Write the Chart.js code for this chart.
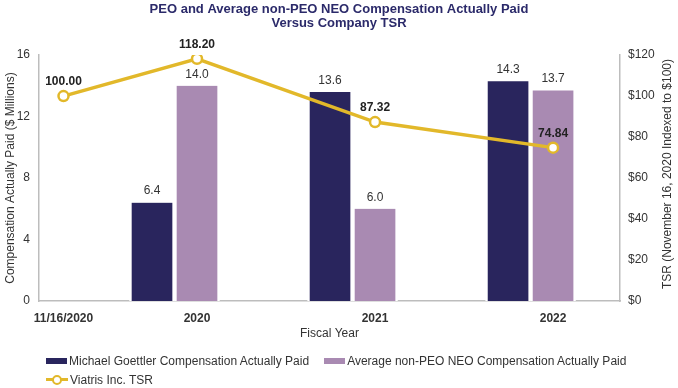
<!DOCTYPE html>
<html>
<head>
<meta charset="utf-8">
<script src="https://cdn.jsdelivr.net/npm/chart.js@4.4.1/dist/chart.umd.min.js"></script>
<style>
  html, body { margin: 0; padding: 0; background: #fff; }
  #wrap { position: relative; width: 678px; height: 388px; }
  #legend {
    position: absolute; left: 46px; top: 351px; width: 610px;
    display: flex; flex-wrap: wrap;
    font: 12px "Liberation Sans", Arial, sans-serif; color: #333;
  }
  .item { display: flex; align-items: center; height: 19px; margin-right: 15px; white-space: nowrap; }
  .swatch { width: 21px; height: 6px; margin-right: 2px; }
  .marker { position: relative; width: 22px; height: 10px; margin-right: 2px; }
  .marker .bar { position: absolute; left: 0; right: 0; top: 3.5px; height: 3px; }
  .marker .dot { position: absolute; left: 6px; top: 0; width: 6px; height: 6px; border-radius: 50%; background: #fff; border: 2px solid; }
</style>
</head>
<body>
<div id="wrap">
  <canvas id="chart" width="678" height="388"></canvas>
  <div id="legend"></div>
</div>
<script>
const categories = ['11/16/2020', '2020', '2021', '2022'];
const categoryPositions = [0.25, 1, 2, 3];
const ceoCap = [null, 6.4, 13.6, 14.3];
const neoCap = [null, 14.0, 6.0, 13.7];
const tsrValues = [100.00, 118.20, 87.32, 74.84];
const compTicks = [0, 4, 8, 12, 16];
const tsrTicks = [0, 20, 40, 60, 80, 100, 120];

const NAVY = '#29255d';
const PURPLE = '#a98ab2';
const GOLD = '#e2b82a';
const TEXT = '#333333';
const AXIS = '#bdbdbd';
const FONT = '"Liberation Sans", Arial, sans-serif';

function toPoints(values) {
  return values
    .map((y, i) => ({ x: categoryPositions[i], y }))
    .filter(p => p.y !== null);
}

function labelFor(value) {
  const i = categoryPositions.indexOf(value);
  return i >= 0 ? categories[i] : '';
}

// value labels above bars and TSR points
const valueLabels = {
  id: 'valueLabels',
  afterDatasetsDraw(chart) {
    const ctx = chart.ctx;
    ctx.save();
    ctx.textAlign = 'center';
    ctx.textBaseline = 'middle';
    chart.data.datasets.forEach((ds, di) => {
      if (!ds.valueDigits) return;
      const meta = chart.getDatasetMeta(di);
      meta.data.forEach((el, i) => {
        const v = ds.data[i].y;
        if (v === null || v === undefined) return;
        if (ds.type === 'line') {
          ctx.font = 'bold 12px ' + FONT;
          ctx.fillStyle = '#222';
          ctx.fillText(v.toFixed(ds.valueDigits), el.x, el.y - 14);
        } else {
          ctx.font = '12px ' + FONT;
          ctx.fillStyle = TEXT;
          ctx.fillText(v.toFixed(ds.valueDigits), el.x, el.y - 11.5);
        }
      });
    });
    ctx.restore();
  }
};

// right axis title reads bottom-to-top like the left one
const rightTitle = {
  id: 'rightTitle',
  afterDraw(chart) {
    const { ctx, chartArea } = chart;
    ctx.save();
    ctx.translate(668, (chartArea.top + chartArea.bottom) / 2 - 4);
    ctx.rotate(-Math.PI / 2);
    ctx.font = '12px ' + FONT;
    ctx.fillStyle = TEXT;
    ctx.textAlign = 'center';
    ctx.textBaseline = 'middle';
    ctx.fillText('TSR (November 16, 2020 Indexed to $100)', 0, 0);
    ctx.restore();
  }
};

const barStyle = {
  barThickness: 45,
  borderColor: '#ffffff',
  borderWidth: { left: 2.5, right: 2.5, top: 0, bottom: 0 },
  borderSkipped: false,
  yAxisID: 'y',
  order: 1,
  valueDigits: 1,
};

const datasets = [
  {
    type: 'line',
    label: 'Viatris Inc. TSR',
    data: toPoints(tsrValues),
    yAxisID: 'y2',
    borderColor: GOLD,
    borderWidth: 3.5,
    pointRadius: 5,
    pointBorderWidth: 2.5,
    pointBackgroundColor: '#ffffff',
    pointBorderColor: GOLD,
    tension: 0,
    order: 0,
    valueDigits: 2,
  },
  Object.assign({ type: 'bar', label: 'Michael Goettler Compensation Actually Paid', data: toPoints(ceoCap), backgroundColor: NAVY }, barStyle),
  Object.assign({ type: 'bar', label: 'Average non-PEO NEO Compensation Actually Paid', data: toPoints(neoCap), backgroundColor: PURPLE }, barStyle),
  // empty third slot, as in the original grouping
  Object.assign({ type: 'bar', label: '', data: categoryPositions.slice(1).map(x => ({ x, y: null })), backgroundColor: 'rgba(0,0,0,0)' }, barStyle, { valueDigits: 0 }),
];

const chart = new Chart(document.getElementById('chart'), {
  type: 'bar',
  data: { datasets },
  plugins: [valueLabels, rightTitle],
  options: {
    responsive: false,
    animation: false,
    layout: { padding: { left: 0, right: 0, top: 0, bottom: 47 } },
    plugins: {
      legend: { display: false },
      tooltip: { enabled: false },
      title: {
        display: true,
        text: ['PEO and Average non-PEO NEO Compensation Actually Paid', 'Versus Company TSR'],
        color: '#2b2a6a',
        font: { family: FONT, size: 13, weight: 'bold', lineHeight: 1.08 },
        padding: { top: 2, bottom: 25 },
      },
    },
    scales: {
      x: {
        type: 'linear',
        offset: false,
        min: 0.1124,
        max: 3.376,
        grid: { display: false, drawTicks: false },
        border: { color: AXIS, width: 1.5 },
        afterBuildTicks(scale) {
          scale.ticks = categoryPositions.map(value => ({ value }));
        },
        afterFit(scale) { scale.height = 40; },
        ticks: {
          autoSkip: false,
          maxRotation: 0,
          padding: 10,
          color: TEXT,
          font: { family: FONT, size: 12, weight: 'bold' },
          callback: value => labelFor(value),
        },
        title: {
          display: true,
          text: 'Fiscal Year',
          color: TEXT,
          font: { family: FONT, size: 12 },
          padding: { top: 4, bottom: 0 },
        },
      },
      y: {
        position: 'left',
        min: compTicks[0],
        max: compTicks[compTicks.length - 1],
        grid: { display: false, drawTicks: false },
        border: { color: AXIS, width: 1.5 },
        afterFit(scale) { scale.width = 39; },
        ticks: {
          stepSize: compTicks[1] - compTicks[0],
          padding: 9,
          color: TEXT,
          font: { family: FONT, size: 12 },
        },
        title: {
          display: true,
          text: 'Compensation Actually Paid ($ Millions)',
          color: TEXT,
          font: { family: FONT, size: 12 },
          padding: { top: 3, bottom: 0 },
        },
      },
      y2: {
        position: 'right',
        min: tsrTicks[0],
        max: tsrTicks[tsrTicks.length - 1],
        grid: { display: false, drawTicks: false },
        border: { color: AXIS, width: 1.5 },
        afterFit(scale) { scale.width = 58; },
        ticks: {
          stepSize: tsrTicks[1] - tsrTicks[0],
          padding: 8,
          color: TEXT,
          font: { family: FONT, size: 12 },
          callback: v => '$' + v,
        },
      },
    },
  },
});

// HTML legend built from the datasets: bars first, then the TSR line
const legend = document.getElementById('legend');
[1, 2, 0].forEach(i => {
  const ds = chart.data.datasets[i];
  const item = document.createElement('div');
  item.className = 'item';
  if (ds.type === 'line') {
    item.innerHTML = '<span class="marker"><span class="bar" style="background:' + ds.borderColor + '"></span>' +
      '<span class="dot" style="border-color:' + ds.borderColor + '"></span></span>';
  } else {
    item.innerHTML = '<span class="swatch" style="background:' + ds.backgroundColor + '"></span>';
  }
  item.appendChild(document.createTextNode(ds.label));
  if (i === 0) item.style.flexBasis = '100%';
  legend.appendChild(item);
});
</script>
</body>
</html>
